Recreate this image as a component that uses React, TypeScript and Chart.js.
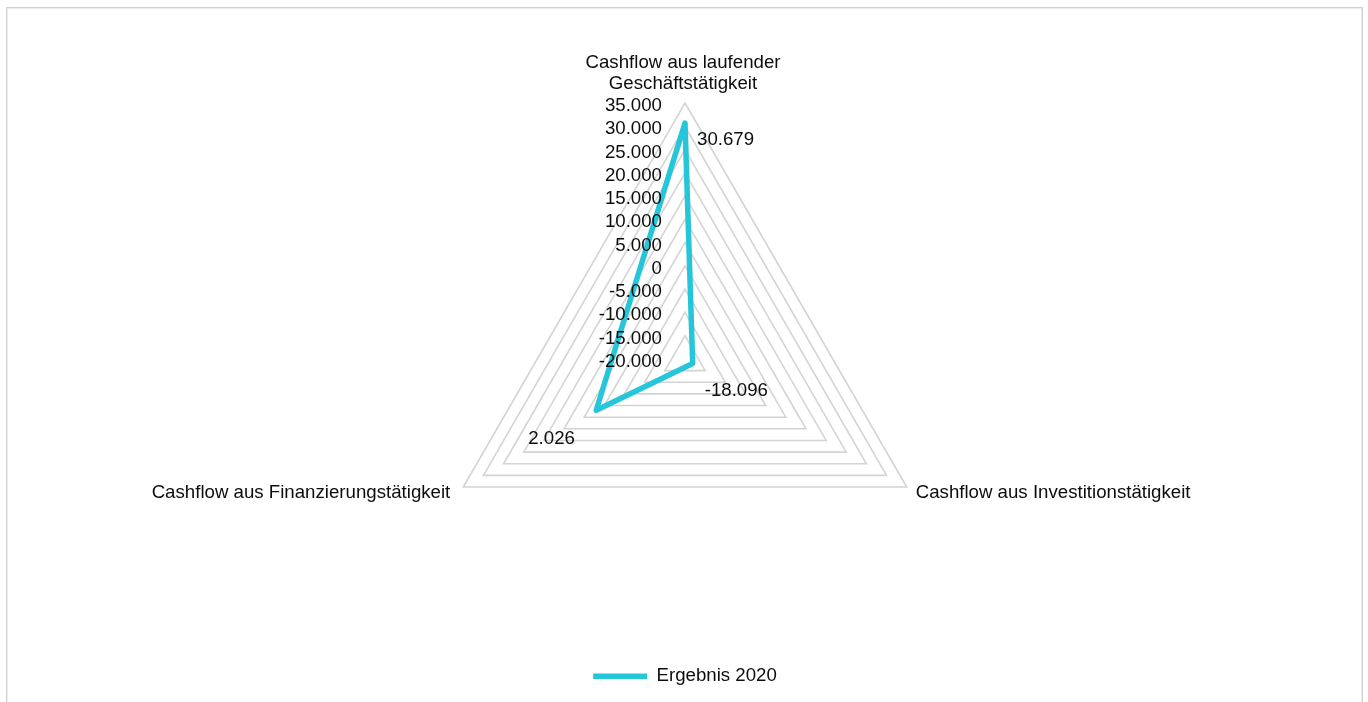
import React, { useEffect, useRef } from "react";
import { Chart, registerables } from "chart.js";

Chart.register(...registerables);

// Cash flow categories (multi-line where the axis caption wraps)
const categories: string[][] = [
  ["Cashflow aus laufender", "Geschäftstätigkeit"],
  ["Cashflow aus Investitionstätigkeit"],
  ["Cashflow aus Finanzierungstätigkeit"],
];
const seriesName = "Ergebnis 2020";
const seriesValues = [30679, -18096, 2026];

// Radial axis range
const axisMin = -20000;
const axisMax = 35000;
const axisStep = 5000;

const W = 1368;
const H = 702;
const FONT = "'Liberation Sans', Arial, sans-serif";
const FS = 18.67;
const TEXT = "#0d0d0d";
const LINE = "#26C6DA";

// German thousands separator, e.g. -20.000
const fmt = (v: number) => {
  const s = Math.abs(Math.round(v))
    .toString()
    .replace(/\B(?=(\d{3})+(?!\d))/g, ".");
  return (v < 0 ? "-" : "") + s;
};

// Caption placement around each vertex: alignment and offset from the vertex
const captionStyle = [
  { align: "center" as CanvasTextAlign, dx: -2, dy: -14, lh: 21 },
  { align: "left" as CanvasTextAlign, dx: 9, dy: 11, lh: 21 },
  { align: "right" as CanvasTextAlign, dx: -13, dy: 11, lh: 21 },
];
// Value label offsets from each data point
const valueLabelOffset = [
  { dx: 12, dy: 22 },
  { dx: 12, dy: 33 },
  { dx: -68, dy: 34 },
];

const radarText = {
  id: "radarText",
  afterDatasetsDraw(chart: any) {
    const ctx: CanvasRenderingContext2D = chart.ctx;
    const r = chart.scales.r;
    ctx.save();
    ctx.font = `${FS}px ${FONT}`;
    ctx.fillStyle = TEXT;
    ctx.textBaseline = "alphabetic";

    // axis tick labels, right-aligned left of the vertical spoke
    ctx.textAlign = "right";
    r.ticks.forEach((t: any) => {
      const d = r.getDistanceFromCenterForValue(t.value);
      ctx.fillText(fmt(t.value), r.xCenter - 23, r.yCenter - d + 8);
    });

    // category captions at the outer vertices
    categories.forEach((lines, i) => {
      const p = r.getPointPosition(i, r.drawingArea);
      const st = captionStyle[i];
      ctx.textAlign = st.align;
      const n = lines.length;
      lines.forEach((line, k) => {
        const y = p.y + st.dy - (n - 1 - k) * st.lh;
        ctx.fillText(line, p.x + st.dx, y);
      });
    });

    // data value labels
    const meta = chart.getDatasetMeta(0);
    ctx.textAlign = "left";
    meta.data.forEach((pt: any, i: number) => {
      const o = valueLabelOffset[i];
      ctx.fillText(fmt(seriesValues[i]), pt.x + o.dx, pt.y + o.dy);
    });
    ctx.restore();
  },
};

export default function App() {
  const ref = useRef<HTMLCanvasElement | null>(null);

  useEffect(() => {
    if (!ref.current) return;
    const legendPad = 52;
    const chart = new Chart(ref.current, {
      type: "radar",
      data: {
        labels: categories,
        datasets: [
          {
            label: seriesName,
            data: seriesValues,
            borderColor: LINE,
            backgroundColor: LINE,
            borderWidth: 5.5,
            borderJoinStyle: "round",
            borderCapStyle: "round",
            fill: false,
            pointRadius: 0,
            pointHoverRadius: 0,
            tension: 0,
          },
        ],
      },
      options: {
        responsive: false,
        animation: false,
        devicePixelRatio: 1,
        layout: {
          padding: {
            top: 103,
            bottom: H - 615 - (FS + legendPad + 10),
            left: 2,
            right: 0,
          },
        },
        scales: {
          r: {
            min: axisMin,
            max: axisMax,
            ticks: { display: false, stepSize: axisStep },
            angleLines: { display: false },
            pointLabels: { display: false },
            grid: { color: "#d4d4d4", lineWidth: 1.6 },
          },
        },
        plugins: {
          legend: {
            display: true,
            position: "bottom",
            labels: {
              usePointStyle: true,
              pointStyle: "line",
              pointStyleWidth: 54,
              padding: legendPad,
              color: TEXT,
              font: { family: FONT, size: FS },
            },
          },
          tooltip: { enabled: false },
        },
      },
      plugins: [radarText],
    });
    return () => chart.destroy();
  }, []);

  return (
    <div style={{ position: "absolute", left: 0, top: 0, width: W, height: H, overflow: "hidden", background: "#fff" }}>
      <div
        style={{
          position: "absolute",
          left: 6,
          top: 7,
          width: 1357,
          height: 720,
          boxSizing: "border-box",
          border: "1px solid #d0d0d0",
          boxShadow: "inset 1px 1px 0 #ececec, inset -1px 0 0 #ececec",
        }}
      />
      <canvas ref={ref} width={W} height={H} style={{ position: "absolute", left: 0, top: 0 }} />
    </div>
  );
}
